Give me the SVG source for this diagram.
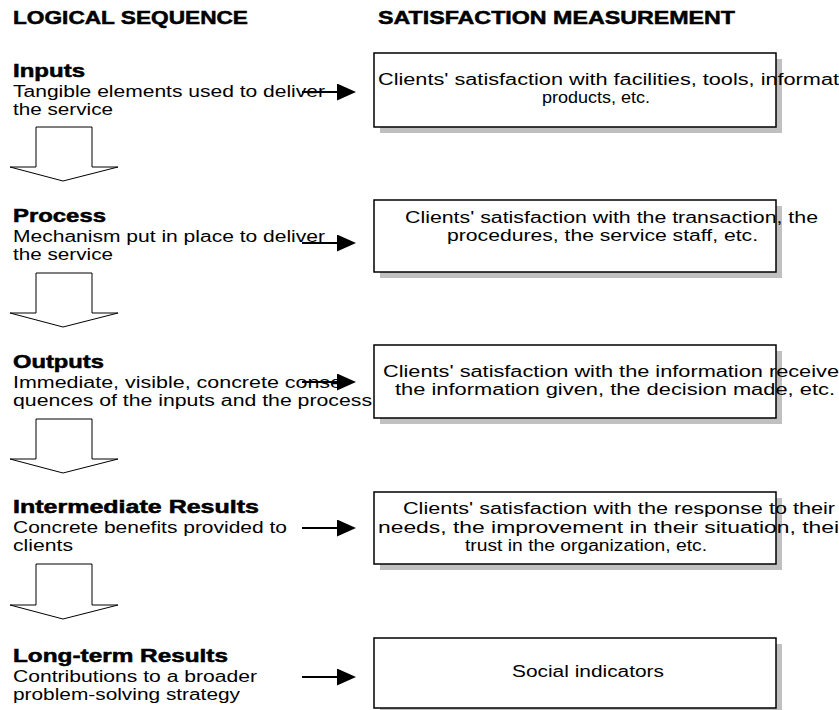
<svg xmlns="http://www.w3.org/2000/svg" width="839" height="710" viewBox="0 0 839 710">
<defs>
<style>
.hd{font-family:"Liberation Sans",Arial,sans-serif;font-weight:bold;font-size:18px;fill:#000;stroke:#000;stroke-width:0.5}
.tx{font-family:"Liberation Sans",Arial,sans-serif;font-size:16px;fill:#000}
.box{fill:#fff;stroke:#000;stroke-width:1.5}
.sh{fill:#c0c0c0}
.ln{stroke:#000;stroke-width:2;fill:none}
.blk{fill:#fff;stroke:#000;stroke-width:1}
</style>
<marker id="ah" markerUnits="userSpaceOnUse" markerWidth="19" markerHeight="17" refX="3" refY="8.5" orient="auto">
<path d="M0,0 L19,8.5 L0,17 Z" fill="#000"/>
</marker>
</defs>
<rect width="839" height="710" fill="#fff"/>

<g id="headings">
<text class="hd" x="13" y="24" textLength="235" lengthAdjust="spacingAndGlyphs">LOGICAL SEQUENCE</text>
<text class="hd" x="378" y="24" textLength="357" lengthAdjust="spacingAndGlyphs">SATISFACTION MEASUREMENT</text>
</g>

<g id="stage-inputs">
<text class="hd" x="13" y="77" textLength="72" lengthAdjust="spacingAndGlyphs">Inputs</text>
<text class="tx" x="13" y="97" textLength="312" lengthAdjust="spacingAndGlyphs">Tangible elements used to deliver</text>
<text class="tx" x="13" y="115" textLength="100" lengthAdjust="spacingAndGlyphs">the service</text>
</g>
<g id="stage-process">
<text class="hd" x="13" y="222" textLength="93" lengthAdjust="spacingAndGlyphs">Process</text>
<text class="tx" x="13" y="242" textLength="312" lengthAdjust="spacingAndGlyphs">Mechanism put in place to deliver</text>
<text class="tx" x="13" y="260" textLength="100" lengthAdjust="spacingAndGlyphs">the service</text>
</g>
<g id="stage-outputs">
<text class="hd" x="13" y="368" textLength="91" lengthAdjust="spacingAndGlyphs">Outputs</text>
<text class="tx" x="13" y="388" textLength="329" lengthAdjust="spacingAndGlyphs">Immediate, visible, concrete conse</text>
<text class="tx" x="13" y="406" textLength="359" lengthAdjust="spacingAndGlyphs">quences of the inputs and the process</text>
</g>
<g id="stage-intermediate">
<text class="hd" x="13" y="513" textLength="246" lengthAdjust="spacingAndGlyphs">Intermediate Results</text>
<text class="tx" x="13" y="533" textLength="274" lengthAdjust="spacingAndGlyphs">Concrete benefits provided to</text>
<text class="tx" x="13" y="551" textLength="60" lengthAdjust="spacingAndGlyphs">clients</text>
</g>
<g id="stage-longterm">
<text class="hd" x="13" y="662" textLength="215" lengthAdjust="spacingAndGlyphs">Long-term Results</text>
<text class="tx" x="13" y="682" textLength="244" lengthAdjust="spacingAndGlyphs">Contributions to a broader</text>
<text class="tx" x="13" y="700" textLength="227" lengthAdjust="spacingAndGlyphs">problem-solving strategy</text>
</g>

<g id="box-inputs">
<rect class="sh" x="380" y="59" width="402" height="74"/>
<rect class="box" x="374" y="53" width="402" height="74"/>
<text class="tx" x="378" y="85" textLength="461" lengthAdjust="spacingAndGlyphs">Clients' satisfaction with facilities, tools, informat</text>
<text class="tx" x="542" y="103" textLength="108" lengthAdjust="spacingAndGlyphs">products, etc.</text>
</g>
<g id="box-process">
<rect class="sh" x="380" y="206" width="402" height="72"/>
<rect class="box" x="374" y="200" width="402" height="72"/>
<text class="tx" x="405" y="223" textLength="413" lengthAdjust="spacingAndGlyphs">Clients' satisfaction with the transaction, the</text>
<text class="tx" x="447" y="241" textLength="311" lengthAdjust="spacingAndGlyphs">procedures, the service staff, etc.</text>
</g>
<g id="box-outputs">
<rect class="sh" x="380" y="351" width="402" height="73"/>
<rect class="box" x="374" y="345" width="402" height="73"/>
<text class="tx" x="383" y="377" textLength="456" lengthAdjust="spacingAndGlyphs">Clients' satisfaction with the information receive</text>
<text class="tx" x="395" y="395" textLength="440" lengthAdjust="spacingAndGlyphs">the information given, the decision made, etc.</text>
</g>
<g id="box-intermediate">
<rect class="sh" x="380" y="498" width="402" height="72"/>
<rect class="box" x="374" y="492" width="402" height="72"/>
<text class="tx" x="403" y="514" textLength="432" lengthAdjust="spacingAndGlyphs">Clients' satisfaction with the response to their</text>
<text class="tx" x="378" y="533" textLength="461" lengthAdjust="spacingAndGlyphs">needs, the improvement in their situation, thei</text>
<text class="tx" x="465" y="551" textLength="242" lengthAdjust="spacingAndGlyphs">trust in the organization, etc.</text>
</g>
<g id="box-longterm">
<rect class="sh" x="380" y="644" width="402" height="70"/>
<rect class="box" x="374" y="638" width="402" height="70"/>
<text class="tx" x="512" y="677" textLength="152" lengthAdjust="spacingAndGlyphs">Social indicators</text>
</g>

<g id="connectors">
<line class="ln" x1="302" y1="92" x2="340" y2="92" marker-end="url(#ah)"/>
<line class="ln" x1="302" y1="243" x2="340" y2="243" marker-end="url(#ah)"/>
<line class="ln" x1="302" y1="382" x2="340" y2="382" marker-end="url(#ah)"/>
<line class="ln" x1="302" y1="528" x2="340" y2="528" marker-end="url(#ah)"/>
<line class="ln" x1="302" y1="677" x2="340" y2="677" marker-end="url(#ah)"/>
<polygon class="blk" points="36,127 92,127 92,167 118,167 63,181 10,167 36,167"/>
<polygon class="blk" points="36,273 92,273 92,313 118,313 63,327 10,313 36,313"/>
<polygon class="blk" points="36,419 92,419 92,459 118,459 63,473 10,459 36,459"/>
<polygon class="blk" points="36,564 92,564 92,605 118,605 63,619 10,605 36,605"/>
</g>
</svg>
